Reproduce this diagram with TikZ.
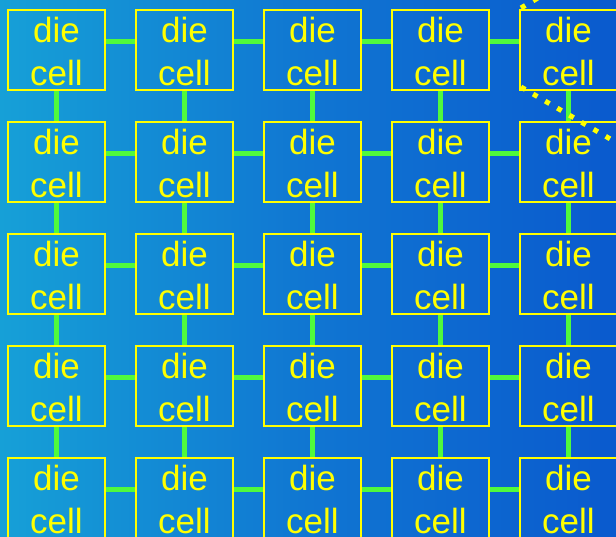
\documentclass[tikz,border=0pt]{standalone}
\usepackage{fontspec}
\setmainfont{Liberation Sans}
\definecolor{bgleft}{RGB}{22,160,215}
\definecolor{bgmid}{RGB}{16,118,210}
\definecolor{bgright}{RGB}{10,90,206}
\definecolor{cellyellow}{RGB}{255,255,0}
\definecolor{linkgreen}{RGB}{80,250,60}
\begin{document}
\begin{tikzpicture}[x=1pt,y=1pt,
  cellbox/.style={draw=cellyellow, line width=1.6pt, minimum width=97pt, minimum height=80pt,
    inner sep=0pt, align=center, text=cellyellow, font=\fontsize{35}{43}\selectfont},
  link/.style={draw=linkgreen, line width=5pt},
  dotline/.style={draw=cellyellow, line width=5pt, dash pattern=on 5pt off 9pt}]
\useasboundingbox (0,0) rectangle (616,537);
\clip (0,0) rectangle (616,537);
\shade[left color=bgleft, right color=bgright, middle color=bgmid] (0,0) rectangle (616,537);
\foreach \i in {0,...,4}{
  \foreach \j in {0,...,4}{
    \node[cellbox] (c-\i-\j) at ({56.5+128*\j},{487-112*\i}) {\rule{0pt}{29pt}die\\cell};
  }
}
\foreach \i in {0,...,4}{
  \foreach \j [evaluate=\j as \k using int(\j+1)] in {0,...,3}{
    \draw[link] ([yshift=8pt]c-\i-\j.east) -- ([yshift=8pt]c-\i-\k.west);
  }
}
\foreach \i [evaluate=\i as \k using int(\i+1)] in {0,...,3}{
  \foreach \j in {0,...,4}{
    \draw[link] (c-\i-\j.south) -- (c-\k-\j.north);
  }
}
\coordinate (d1) at (521,529);
\coordinate (d2) at (548,545);
\coordinate (d3) at (521,450);
\coordinate (d4) at (624,390);
\draw[dotline] (d1) -- (d2);
\draw[dotline] (d3) -- (d4);
\end{tikzpicture}
\end{document}
